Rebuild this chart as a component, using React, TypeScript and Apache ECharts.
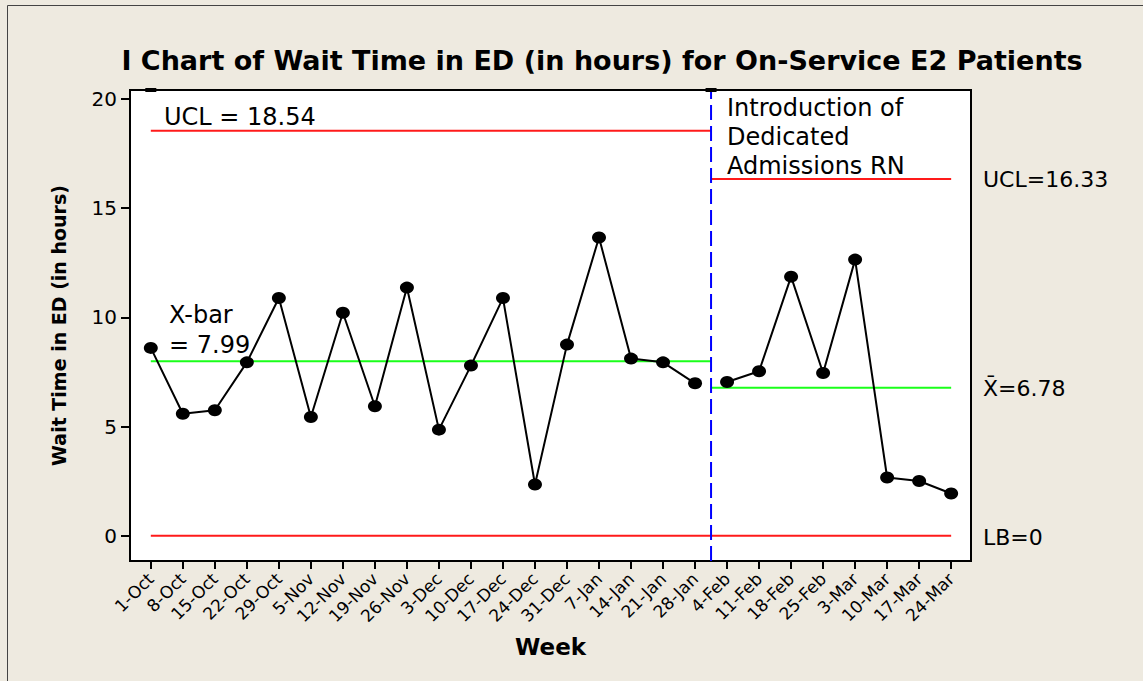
import React, { useEffect, useRef } from "react";
import * as echarts from "echarts";

const weeks = [
  "1-Oct", "8-Oct", "15-Oct", "22-Oct", "29-Oct", "5-Nov", "12-Nov", "19-Nov", "26-Nov",
  "3-Dec", "10-Dec", "17-Dec", "24-Dec", "31-Dec", "7-Jan", "14-Jan", "21-Jan", "28-Jan",
  "4-Feb", "11-Feb", "18-Feb", "25-Feb", "3-Mar", "10-Mar", "17-Mar", "24-Mar",
];
const waitBefore = [8.6, 5.59, 5.75, 7.94, 10.88, 5.44, 10.21, 5.93, 11.36, 4.86, 7.79, 10.88, 2.35, 8.75, 13.65, 8.11, 7.94, 6.98];
const waitAfter = [7.04, 7.53, 11.86, 7.45, 12.64, 2.67, 2.51, 1.94];
const uclValues = [18.54, 16.33];
const meanValues = [7.99, 6.78];
const lowerBound = 0;
const shiftAt = 17.5;
const yTicks = [0, 5, 10, 15, 20];
const yMin = -1.15;
const yMax = 20.4;

const BG = "#EEEAE0";
const FONT = "DejaVu Sans";

export default function App() {
  const ref = useRef<HTMLDivElement>(null);
  useEffect(() => {
    if (!ref.current) return;
    const chart = echarts.init(ref.current, null, { renderer: "svg" });
    const lastIdx = weeks.length - 1;
    const beforeData = waitBefore.map((v, i) => [i, v]);
    const afterData = waitAfter.map((v, i) => [waitBefore.length + i, v]);
    const flat = (data: number[][], color: string, type: any = "solid", z = 3) => ({
      type: "line",
      data,
      symbol: "none",
      silent: true,
      z,
      lineStyle: { color, width: 2, type },
    });
    chart.setOption({
      animation: false,
      backgroundColor: BG,
      title: {
        text: "I Chart of Wait Time in ED (in hours) for On-Service E2 Patients",
        left: 597,
        top: 42,
        textAlign: "center",
        textStyle: { fontFamily: FONT, fontWeight: "bold", fontSize: 27, color: "#000" },
      },
      grid: {
        left: 130,
        right: 172,
        top: 90,
        bottom: 120,
        show: true,
        backgroundColor: "#fff",
        borderColor: "#000",
        borderWidth: 2,
      },
      xAxis: {
        type: "value",
        min: -0.65,
        max: 25.62,
        name: "Week",
        nameLocation: "middle",
        nameGap: 74,
        nameTextStyle: { fontFamily: FONT, fontWeight: "bold", fontSize: 23, color: "#000" },
        axisLine: { show: true, onZero: false, lineStyle: { color: "#000", width: 2 } },
        axisTick: {
          show: true,
          customValues: weeks.map((_, i) => i),
          length: 8,
          lineStyle: { color: "#000", width: 2 },
        },
        axisLabel: {
          customValues: weeks.map((_, i) => i),
          formatter: (v: number) => weeks[Math.round(v)] ?? "",
          rotate: 45,
          margin: 15,
          fontFamily: FONT,
          fontSize: 17,
          color: "#000",
        },
        splitLine: { show: false },
      },
      yAxis: {
        type: "value",
        min: yMin,
        max: yMax,
        name: "Wait Time in ED (in hours)",
        nameLocation: "middle",
        nameGap: 62,
        nameTextStyle: { fontFamily: FONT, fontWeight: "bold", fontSize: 19, color: "#000" },
        axisLine: { show: true, onZero: false, lineStyle: { color: "#000", width: 2 } },
        axisTick: { show: true, customValues: yTicks, length: 9, lineStyle: { color: "#000", width: 2 } },
        axisLabel: { customValues: yTicks, margin: 13, fontFamily: FONT, fontSize: 20, color: "#000" },
        splitLine: { show: false },
      },
      graphic: [
        {
          type: "rect",
          shape: { x: 7.5, y: 5.5, width: 1300, height: 900 },
          style: { fill: "none", stroke: "#444", lineWidth: 1 },
          silent: true,
        },
        {
          type: "text", x: 164, y: 117,
          style: { text: "UCL = 18.54", font: `24px '${FONT}'`, fill: "#000", verticalAlign: "middle" },
        },
        {
          type: "text", x: 169, y: 300,
          style: { text: "X-bar\n= 7.99", font: `24px '${FONT}'`, lineHeight: 30, fill: "#000", verticalAlign: "top" },
        },
        {
          type: "text", x: 727, y: 93,
          style: {
            text: "Introduction of\nDedicated\nAdmissions RN",
            font: `24px '${FONT}'`, lineHeight: 29, fill: "#000", verticalAlign: "top",
          },
        },
        {
          type: "text", x: 983, y: 179,
          style: { text: "UCL=16.33", font: `22px '${FONT}'`, fill: "#000", verticalAlign: "middle" },
        },
        {
          type: "text", x: 983, y: 388,
          style: { text: "X\u0304=6.78", font: `22px '${FONT}'`, fill: "#000", verticalAlign: "middle" },
        },
        {
          type: "text", x: 983, y: 537,
          style: { text: "LB=0", font: `22px '${FONT}'`, fill: "#000", verticalAlign: "middle" },
        },
      ],
      series: [
        flat([[0, uclValues[0]], [shiftAt, uclValues[0]]], "#ff1a1a"),
        flat([[shiftAt, uclValues[1]], [lastIdx, uclValues[1]]], "#ff1a1a"),
        flat([[0, meanValues[0]], [shiftAt, meanValues[0]]], "#1aff1a"),
        flat([[shiftAt, meanValues[1]], [lastIdx, meanValues[1]]], "#1aff1a"),
        flat([[0, lowerBound], [lastIdx, lowerBound]], "#ff1a1a"),
        flat([[shiftAt, yMin], [shiftAt, yMax]], "#0000ff", [15, 6], 4),
        {
          type: "line",
          data: beforeData,
          z: 5,
          symbol: "circle",
          symbolSize: [14, 12],
          itemStyle: { color: "#000" },
          lineStyle: { color: "#000", width: 2 },
          markPoint: {
            silent: true,
            symbol: "rect",
            symbolSize: [11, 4],
            label: { show: false },
            itemStyle: { color: "#000" },
            data: [{ coord: [0, yMax] }, { coord: [shiftAt, yMax] }],
          },
        },
        {
          type: "line",
          data: afterData,
          z: 5,
          symbol: "circle",
          symbolSize: [14, 12],
          itemStyle: { color: "#000" },
          lineStyle: { color: "#000", width: 2 },
        },
      ],
    });
    return () => chart.dispose();
  }, []);
  return (
    <div
      ref={ref}
      style={{ position: "fixed", left: 0, top: 0, width: 1143, height: 681 }}
    />
  );
}
